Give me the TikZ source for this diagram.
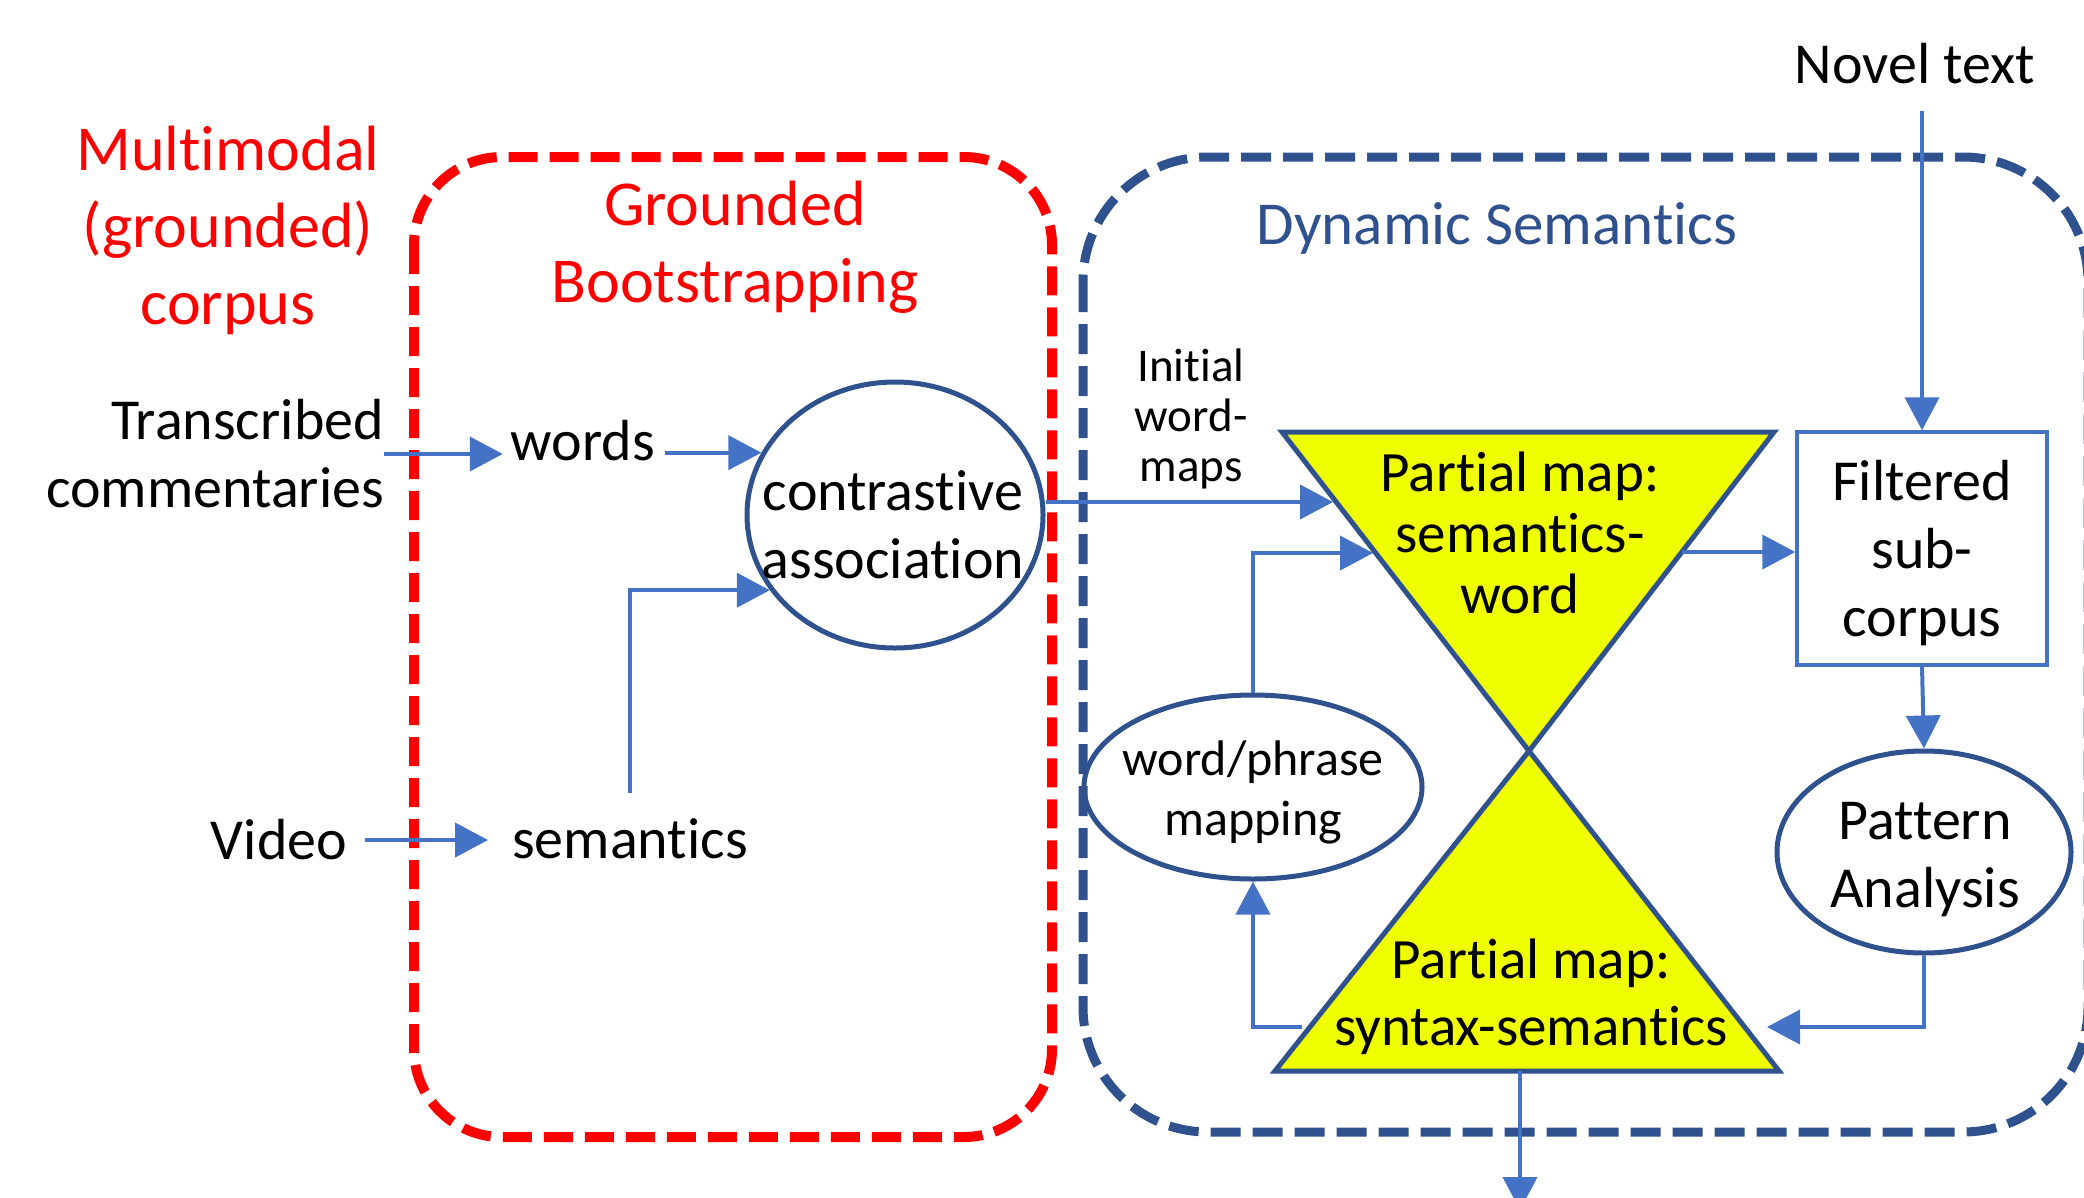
\documentclass[tikz,border=0pt]{standalone}
\usepackage{fontspec}
\setmainfont{Carlito}[Ligatures=NoCommon]
\usetikzlibrary{shapes.geometric,arrows.meta,calc}
\definecolor{bred}{RGB}{255,0,0}
\definecolor{dblue}{RGB}{47,82,143}
\definecolor{ablue}{RGB}{68,114,196}
\definecolor{tyellow}{RGB}{240,255,0}
\begin{document}
\begin{tikzpicture}[x=1pt,y=-1pt,
  arr/.style={draw=ablue,line width=4pt,-{Triangle[length=33pt,width=34pt]}},
  txt/.style={inner sep=0pt,align=center,font=\fontsize{58}{68}\selectfont},
  redtxt/.style={inner sep=0pt,align=center,text=bred,font=\fontsize{64}{77}\selectfont},
  bluetxt/.style={inner sep=0pt,align=center,text=dblue,font=\fontsize{61}{70}\selectfont},
  redbox/.style={draw=bred,line width=10pt,dash pattern=on 29pt off 12pt,rounded corners=88pt},
  bluebox/.style={draw=dblue,line width=9pt,dash pattern=on 30pt off 12pt,rounded corners=125pt},
  ell/.style={ellipse,draw=dblue,line width=5pt,inner sep=0pt},
  tribox/.style={draw=dblue,line width=5pt,fill=tyellow,line join=miter},
  rectbox/.style={draw=ablue,line width=3.5pt,inner sep=0pt}
]
\useasboundingbox (0,0) rectangle (2084,1197);
\clip (0,0) rectangle (2084,1197);

% dashed frames
\draw[redbox] (414,157) rectangle (1052,1137);
\draw[bluebox] (1083,157) rectangle (2088,1132);

% titles
\node[redtxt] (mm) at (228,230) {Multimodal\\(grounded)\\corpus};
\node[redtxt] (gb) at (735,247) {Grounded\\Bootstrapping};
\node[bluetxt] (ds) at (1497,228) {Dynamic Semantics};
\node[txt] (nt) at (1915,64) {Novel text};

% left side
\node[txt,anchor=east,align=right] (tc) at (384,454) {Transcribed\\commentaries};
\node[txt] (w) at (583,441) {words};
\node[txt] (vid) at (279,840) {Video};
\node[txt] (sem) at (630,839) {semantics};
\node[ell,minimum width=296pt,minimum height=266pt] (ca) at (895,515) {};
\node[txt] (catxt) at (893,525) {contrastive\\association};

% right side
\node[inner sep=0pt,align=center,font=\fontsize{47}{50}\selectfont] (iw) at (1191,419) {Initial\\word-\\maps};
\node[ell,minimum width=338pt,minimum height=184pt] (wp) at (1253,787) {};
\node[inner sep=0pt,align=center,font=\fontsize{50}{60}\selectfont] (wptxt) at (1253,792) {word/phrase\\mapping};
\node[ell,minimum width=294pt,minimum height=202pt] (pa) at (1924,852) {};
\node[txt] (patxt) at (1925,860) {Pattern\\Analysis};
\node[rectbox,minimum width=250pt,minimum height=233pt] (fs) at (1922,548.5) {};
\node[txt] (fstxt) at (1922,553) {Filtered\\sub-\\corpus};

% hourglass
\coordinate (t1a) at (1282,432);
\coordinate (t1b) at (1774,432);
\coordinate (apex) at (1529,751);
\coordinate (t2a) at (1275,1071);
\coordinate (t2b) at (1779,1071);
\draw[tribox] (t1a) -- (t1b) -- (apex) -- cycle;
\draw[tribox] (apex) -- (t2b) -- (t2a) -- cycle;
\node[inner sep=0pt,align=center,font=\fontsize{57}{61}\selectfont] (p1) at (1520,533) {Partial map:\\semantics-\\word};
\node[inner sep=0pt,align=center,font=\fontsize{57}{67}\selectfont] (p2) at (1531,997) {Partial map:\\syntax-semantics};

% connector end points on the triangle edges
\coordinate (p1in1) at (1333,502);
\coordinate (p1in2) at (1373,553);
\coordinate (p1out) at (1682,552);
\coordinate (p2in) at (1767,1027);
\coordinate (p2out) at (1302,1027);
\coordinate (p2base) at (1520,1071);
\coordinate (down) at (1520,1210);

% connectors
\draw[arr] (tc.east) -- ([xshift=-8pt]w.west |- tc.east);
\draw[arr,shorten <=10pt] (w.east |- ca.155) -- (ca.155);
\draw[arr,shorten <=26pt] (sem.north) |- (ca.211);
\draw[arr,shorten >=24pt] (vid.east) ++(18pt,0) coordinate (vs) -- (sem.west |- vs);
\draw[arr] (ca.east |- p1in1) -- (p1in1);
\draw[arr,shorten <=26pt] (nt.south -| fs.north) -- (fs.north);
\draw[arr] (p1out) -- (fs.west |- p1out);
\draw[arr] (fs.south) -- (pa.north);
\draw[arr] (pa.south) |- (p2in);
\draw[arr] (wp.north) |- (p1in2);
\draw[arr] (p2out) -| (wp.south);
\draw[arr] (p2base) -- (down);
\end{tikzpicture}
\end{document}
